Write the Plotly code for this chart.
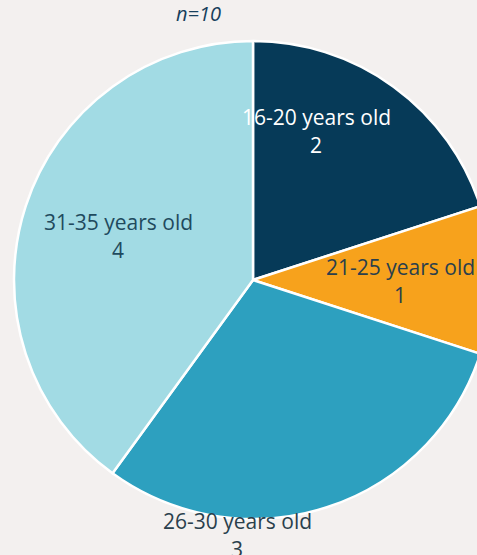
import plotly.graph_objects as go

categories = ["16-20 years old", "21-25 years old", "26-30 years old", "31-35 years old"]
values = [2, 1, 3, 4]
slice_colors = ["#063a58", "#f7a21c", "#2da0bf", "#a2dbe4"]
text_colors = ["#ffffff", "#2a3f4c", "#2a3f4c", "#1f4a5e"]
title_text = "n=10"

W, H = 506, 555
BG = "#f3f0ef"

fig = go.Figure(go.Pie(
    labels=categories,
    values=values,
    sort=False,
    direction="clockwise",
    rotation=0,
    marker=dict(colors=slice_colors, line=dict(color="#ffffff", width=2.5)),
    textinfo="none",
    hoverinfo="label+value",
    showlegend=False,
    domain=dict(x=[0, 1], y=[(H - 519) / H, (H - 41) / H]),
))

# label anchor positions in pixels (x, y of name line), layout only
label_pos = [(316, 117), (400, 267), (237, 521), (118, 222)]
anns = []
for cat, val, col, (px, py) in zip(categories, values, text_colors, label_pos):
    anns.append(dict(x=px / W, y=1 - py / H, xref="paper", yref="paper",
                     text=cat, showarrow=False, xanchor="center", yanchor="middle",
                     font=dict(family="Open Sans", size=21, color=col)))
    anns.append(dict(x=px / W, y=1 - (py + 28) / H, xref="paper", yref="paper",
                     text=str(val), showarrow=False, xanchor="center", yanchor="middle",
                     font=dict(family="Open Sans", size=21, color=col)))
anns.append(dict(x=198 / W, y=1 - 14 / H, xref="paper", yref="paper",
                 text="<i>" + title_text + "</i>", showarrow=False,
                 xanchor="center", yanchor="middle",
                 font=dict(family="Open Sans", size=20, color="#173f5c")))

fig.update_layout(
    width=W, height=H,
    margin=dict(l=0, r=0, t=0, b=0),
    paper_bgcolor=BG, plot_bgcolor=BG,
    annotations=anns,
)

fig.write_html("out.html", config={"displayModeBar": False},
               post_script="document.body.style.margin='0';document.body.style.overflow='hidden';document.documentElement.style.overflow='hidden';")
